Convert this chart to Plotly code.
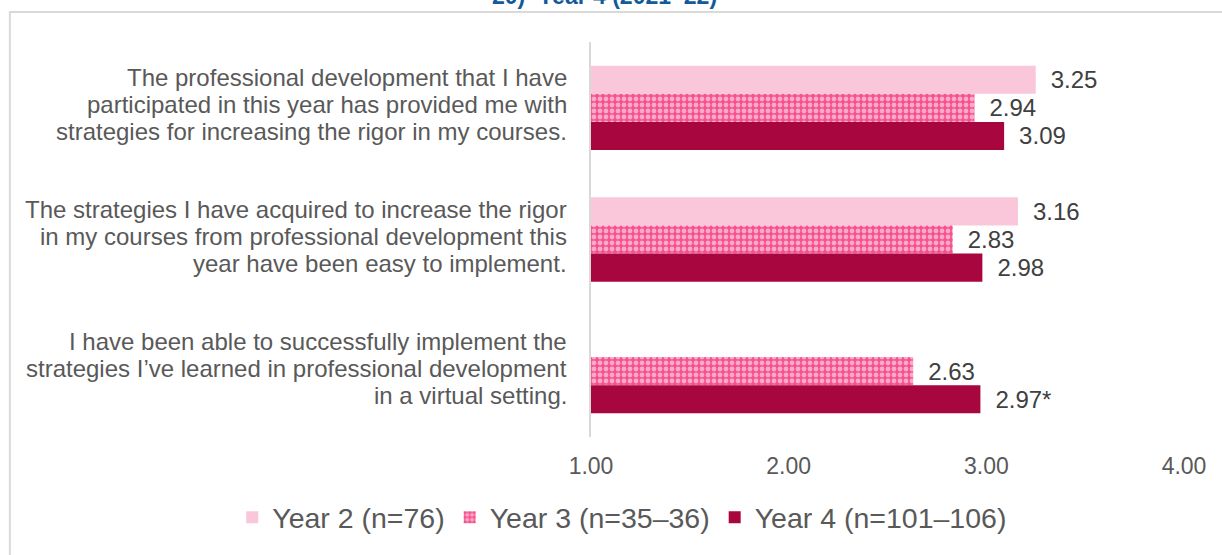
import plotly.graph_objects as go

# Survey statements (y categories), shown top to bottom; each is drawn as three lines
statement_keys = ["S1", "S2", "S3"]
statement_lines = [
    ["The professional development that I have",
     "participated in this year has provided me with",
     "strategies for increasing the rigor in my courses."],
    ["The strategies I have acquired to increase the rigor",
     "in my courses from professional development this",
     "year have been easy to implement."],
    ["I have been able to successfully implement the",
     "strategies I\u2019ve learned in professional development",
     "in a virtual setting."],
]

# Mean ratings per cohort (Year 2 did not rate the virtual-setting item)
year2 = [3.25, 3.16, None]
year3 = [2.94, 2.83, 2.63]
year4 = [3.09, 2.98, 2.97]
year4_flags = ["", "", "*"]

series_names = ["Year 2 (n=76)", "Year 3 (n=35\u201336)", "Year 4 (n=101\u2013106)"]
x_ticks = [1, 2, 3, 4]
x_tick_labels = ["1.00", "2.00", "3.00", "4.00"]

FONT = "Liberation Sans, Arial, sans-serif"
PAD = "\u2002"


def value_labels(values, flags=None):
    out = []
    for i, v in enumerate(values):
        if v is None:
            out.append("")
        else:
            suffix = flags[i] if flags else ""
            out.append(f"{PAD}{v:.2f}{suffix}")
    return out


fig = go.Figure()

fig.add_trace(go.Bar(
    name=series_names[0], y=statement_keys, x=year2, orientation="h",
    marker=dict(color="#f9c7d9", line=dict(width=0)),
    text=value_labels(year2), textposition="outside",
))
fig.add_trace(go.Bar(
    name=series_names[1], y=statement_keys, x=year3, orientation="h",
    marker=dict(color="#f5528f", line=dict(width=0),
                pattern=dict(shape=".", fgcolor="white", bgcolor="#f5528f",
                             size=6, solidity=0.5, fillmode="overlay")),
    text=value_labels(year3), textposition="outside",
))
fig.add_trace(go.Bar(
    name=series_names[2], y=statement_keys, x=year4, orientation="h",
    marker=dict(color="#a8063f", line=dict(width=0)),
    text=value_labels(year4, year4_flags), textposition="outside",
))

fig.update_traces(
    textfont=dict(family=FONT, size=24, color="#404040"),
    cliponaxis=False,
)

# Category labels, right-aligned next to the axis line, 27 px line pitch
for key, lines in zip(statement_keys, statement_lines):
    for j, line in enumerate(lines):
        fig.add_annotation(
            text=line, xref="paper", yref="y", x=0, y=key,
            xanchor="right", yanchor="middle", xshift=-22, yshift=3 + 27 * (1 - j),
            showarrow=False, font=dict(family=FONT, size=24, color="#595959"),
        )

# Chart frame
fig.add_shape(type="rect", xref="paper", yref="paper",
              x0=-0.98, x1=1.1, y0=-0.4, y1=1.0759,
              line=dict(color="#d9d9d9", width=2), fillcolor="rgba(0,0,0,0)",
              layer="below")

# Title (last line)
fig.add_annotation(
    text="<b>20)\u2013Year 4 (2021\u201322)</b>", xref="paper", yref="paper",
    x=0.022, y=1.078, xanchor="center", yanchor="bottom", showarrow=False,
    font=dict(family=FONT, size=23, color="#125a99"),
)

fig.update_layout(
    width=1222, height=555,
    margin=dict(l=591, r=38, t=42, b=111),
    paper_bgcolor="white", plot_bgcolor="white",
    barmode="group", bargap=0.36, bargroupgap=0,
    font=dict(family=FONT, size=23, color="#595959"),
    xaxis=dict(range=[1, 4], tickvals=x_ticks, ticktext=x_tick_labels,
               showgrid=False, zeroline=False, showline=False,
               ticks="", tickfont=dict(size=23, color="#595959"),
               ticklabelstandoff=13),
    yaxis=dict(autorange="reversed", showgrid=False, zeroline=False,
               showline=True, linecolor="#d9d9d9", linewidth=2,
               ticks="", showticklabels=False),
    legend=dict(orientation="h", x=-0.605, y=-0.2045, xanchor="left", yanchor="middle",
                font=dict(family=FONT, size=28.5, color="#595959"), traceorder="normal",
                itemwidth=30, tracegroupgap=0),
    showlegend=True,
)

fig.write_html("out.html")
